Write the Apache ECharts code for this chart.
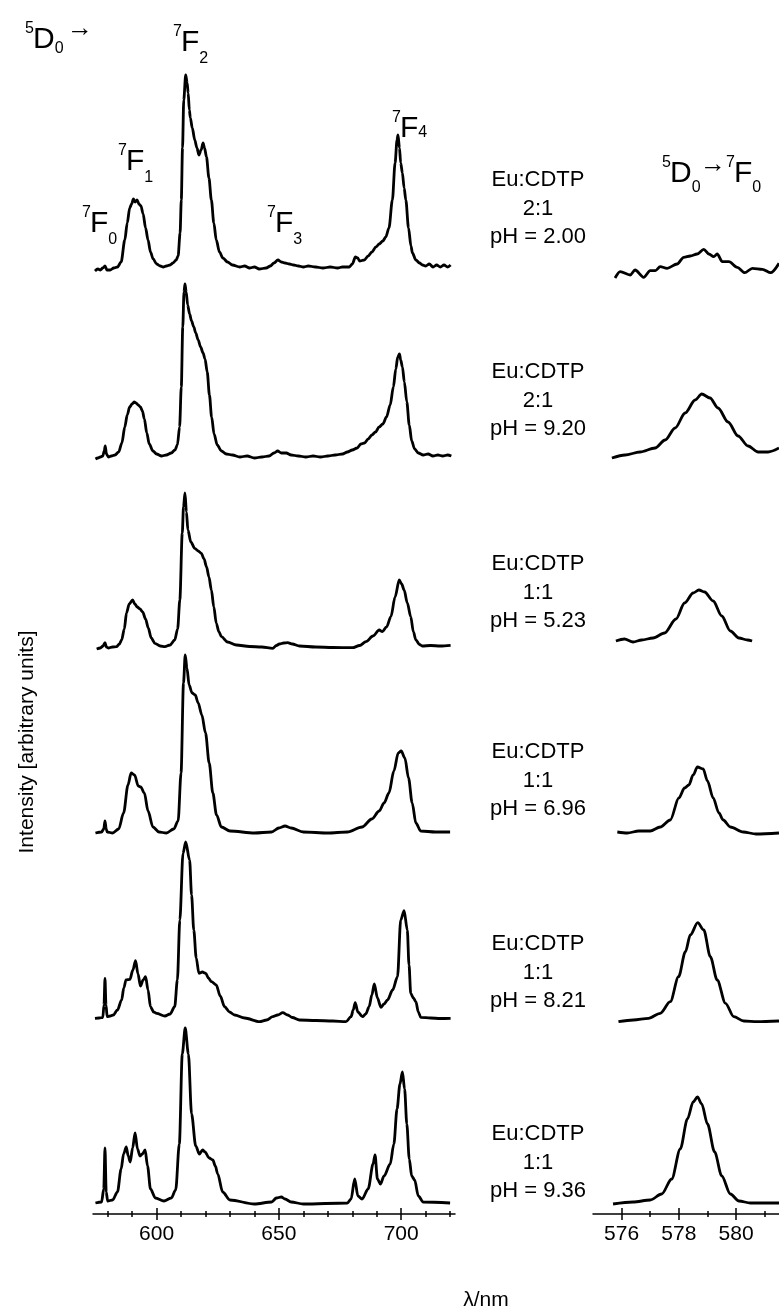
<!DOCTYPE html>
<html>
<head>
<meta charset="utf-8">
<script src="https://cdn.jsdelivr.net/npm/echarts@6/dist/echarts.min.js"></script>
<style>
html, body { margin: 0; padding: 0; background: #fff; }
#chart { width: 779px; height: 1315px; }
</style>
</head>
<body>
<div id="chart"></div>
<script>
// spectra: [wavelength nm, intensity (arb.)], one array per sample, top to bottom
const spec1 = [[574.8,-3],[576,-1],[577,-2],[578,0],[578.9,2],[579.7,-2],[581,-2],[582.5,0],[584,1],[585.5,6],[587,28],[588,45],[589,60],[589.8,64],[590.5,69],[591.2,66],[592,68],[592.8,64],[593.6,62],[594.5,54],[595.5,40],[596.5,28],[597.5,16],[598.6,9],[600,4],[601.5,2],[602.7,1],[604,2],[605.5,3],[606.7,5],[608,8],[608.8,12],[609.6,35],[610.1,68],[610.6,120],[611.1,168],[611.9,193],[612.5,185],[612.9,175],[613.4,158],[613.8,150],[614.6,140],[615.6,128],[616.5,120],[617.3,113],[618.2,118],[619,125],[619.6,120],[620.4,111],[621.4,90],[622.4,68],[623.4,45],[624.4,28],[625.7,16],[627.1,10],[629,6],[631,3],[634,1],[636,2],[638,0],[640,1],[642,-1],[644.8,0],[646.5,2],[648,5],[649.6,8],[651,6],[652.5,5],[654.3,4],[656,3],[658,2],[660,1],[662,2],[665,1],[668,0],[671,1],[674,0],[676,1],[678.8,1],[680,4],[681.3,11],[682.2,10],[683,7],[684.9,8],[686.5,12],[688,16],[689.7,21],[691,24],[692.5,27],[693.7,31],[695,40],[696.4,68],[697.5,105],[698.3,128],[698.7,133],[699.3,120],[699.8,105],[700.5,95],[701.2,80],[701.9,68],[703,40],[704,22],[704.6,15],[706,8],[707.5,5],[708.7,3],[710,2],[711.5,4],[713,1],[714.5,3],[716,1],[717.5,3],[719,1],[720.2,3]];
const spec2 = [[575,-2],[576,-1],[577,0],[578,1],[578.6,6],[579,11],[579.5,3],[580.3,0],[581.5,1],[583,2],[584.5,5],[585.8,14],[587,30],[588,42],[589,50],[590,53],[590.8,55],[591.6,54],[592.5,52],[593.4,50],[594.2,46],[595,38],[596,24],[597,13],[598.5,6],[600,3],[602,1],[604,2],[606,4],[607.5,7],[608.5,12],[609.4,30],[610.1,70],[610.7,130],[611.2,165],[611.6,173],[612.1,165],[612.7,152],[613.5,143],[614.3,136],[615.2,130],[616,124],[617,117],[618,110],[619,104],[619.8,98],[620.7,85],[621.6,62],[622.5,40],[623.5,23],[624.8,12],[626.5,6],[628.5,3],[631,2],[634,0],[637,1],[640,-1],[643,0],[646,1],[648,4],[649.5,6],[651,4],[653,4],[655,2],[658,1],[661,0],[664,1],[667,0],[670,1],[673,2],[676,3],[678,5],[680,7],[682,9],[683.5,13],[685,14],[686.5,18],[688,22],[689.5,25],[691,30],[692.5,33],[694,40],[695.5,52],[696.8,70],[697.8,88],[698.6,100],[699.3,103],[699.8,97],[700.5,90],[701.3,75],[702.3,55],[703.3,32],[704.3,16],[705.5,8],[707,4],[709,2],[711,3],[713,1],[715,2],[717,1],[719,2],[720.5,1]];
const spec3 = [[575.5,-2],[577,-1],[578.1,1],[578.9,4.3],[579.5,0],[580.2,-1],[582,0],[583.6,0.3],[584.8,3],[585.7,7],[586.8,18],[587.7,34],[588.8,43],[590.2,47],[591.1,43],[592.1,40],[593.2,38],[594.3,35],[595.5,28],[596.6,19],[597.8,9],[599.3,3.7],[601.5,1],[603.4,0.3],[605.5,2],[607.4,7],[608.6,18],[609.5,47],[610.5,114],[611,140],[611.6,154],[612.2,135],[612.8,117],[614,105],[615.6,98.7],[617,96],[618.3,93.7],[619.4,88],[620.4,80.3],[621.4,70],[622.4,57],[623.4,40],[624.4,23.7],[625.5,15],[626.5,10.3],[629,5],[632.6,2],[638,0.5],[643,0],[647.5,-1.3],[649,1.5],[650.2,3],[652,4],[653.6,4.3],[655.5,3],[658.4,1],[665,0],[672,-0.5],[680.1,-0.7],[683,1.5],[685.6,5.3],[688.5,11],[691,17],[692.3,15.3],[694,20],[695.8,30.3],[697.5,50],[699.2,67],[700.2,63],[701.2,57],[702.5,44],[703.9,30.3],[705,15],[706,7],[707.5,2.5],[708.6,1],[712,1.5],[716,1],[720.2,1.7]];
const spec4 = [[575,0],[577.5,1],[578.4,4],[578.9,12],[579.4,4],[579.8,1],[582,0],[584.5,4],[586.5,20],[588.3,48],[589.6,60],[591,58],[592.5,47],[593.5,46],[595,40],[596.5,22],[598.5,6],[601,1],[604,0],[607,4],[608.8,12],[610,60],[611,150],[611.7,178],[612.4,165],[613.3,148],[614.5,140],[615.8,138],[617,130],[618.5,118],[620,100],[621.5,70],[623,40],[624.5,18],[626.5,6],[630,2],[640,0],[647,1],[650,5],[652.5,7],[655,5],[660,1],[670,0],[678,1],[684,6],[688,14],[691,22],[693,30],[695,40],[697,62],[698.8,80],[700,82],[701.5,75],[703,55],[704.5,30],[706,10],[708,2],[714,1],[720,1]];
const spec5 = [[574.8,1.7],[576.5,2],[578,2.5],[578.5,15],[578.9,41.7],[579.3,15],[579.8,3.3],[581,4],[582.3,5],[584,10],[585.7,20],[586.6,32],[587.5,40],[589.1,40.7],[590.3,50],[591.4,59.3],[592.4,46],[593.4,34],[594.5,40],[595.5,43.3],[596.5,30],[597.5,13.3],[598.8,8],[600,6.7],[603.4,4],[605.5,6],[607.4,13.3],[608.5,40],[609.5,100],[610.8,166.7],[611.9,178],[613.5,160],[614.3,125],[615.2,90],[616.2,62],[617.3,46.7],[618.7,48],[620.1,46.7],[621.2,42],[622.4,38.3],[624.4,35],[626,24],[627.8,13.3],[629.8,8],[631.9,5],[636,2],[642.1,-1.7],[645,0],[647.5,3.3],[649.5,5],[651.6,7.3],[653.6,5],[655.5,2.5],[658.4,0],[665,-0.5],[672,-1],[677.4,-1.7],[679.5,3.3],[680.4,10],[681.2,17.3],[682.3,8],[684.2,3.3],[685.5,6],[686.9,13.3],[688,25],[689,36],[690.3,22],[691.7,12.7],[693,16],[694.4,20],[696.5,30],[698.5,43.3],[699.8,100],[701.2,109.3],[702.5,90],[703.2,55],[703.9,26.7],[705,22],[706,18.3],[707,8],[708,2.7],[712,2],[716,1.5],[720.2,1.7]];
const spec6 = [[575,1],[577.5,2],[578.4,15],[578.9,56],[579.4,12],[580,3],[582,4],[584,12],[585.5,35],[586.5,50],[587.6,57],[588.4,48],[589.2,42],[590.2,56],[591.2,71],[592.2,55],[593.2,48],[594.2,50],[595.3,54],[596.3,38],[597.5,15],[599.5,6],[603,3],[606,6],[607.8,14],[609.3,60],[610.5,150],[611.7,176],[613,150],[614.3,90],[616,58],[617.5,50],[618.8,54],[619.8,52],[621.5,46],[623,44],[624,38],[625,30],[627,12],[630,4],[640,0],[647,2],[649,6],[651,7],[652.5,5],[655,2],[660,0],[678,1],[679.5,5],[681,25],[682.3,8],[684,5],[686.5,15],[688.5,40],[689.3,49],[690.3,25],[691.5,20],[693,28],[695.5,40],[697,60],[698.3,95],[699.5,120],[700.5,132],[701.4,115],[702.3,80],[703.3,45],[704.3,28],[705.5,24],[707,8],[709,2],[720,1]];

// 5D0 -> 7F0 insets, same order
const inset1 = [[575.77,0],[575.95,6.3],[576.3,3],[576.47,8],[576.77,0.7],[577.0,7.3],[577.18,7.3],[577.35,11.3],[577.59,9.7],[577.94,14],[578.17,20.7],[578.4,22],[578.64,24],[578.87,28.7],[579.05,24],[579.22,21.3],[579.34,24],[579.52,16.3],[579.75,16.3],[580.04,10.7],[580.3,5.3],[580.57,9.7],[580.92,8.7],[581.21,5.3],[581.5,14.7]];
const inset2 = [[575.66,-3],[576.12,0],[576.64,3],[577.17,7],[577.52,15],[577.87,27],[578.22,42],[578.57,55],[578.8,61],[579.09,57],[579.37,47],[579.72,33],[580.07,19],[580.42,9],[580.77,3],[581.12,3],[581.5,7]];
const inset3 = [[575.8,0],[576.1,2],[576.4,-1],[576.7,1],[577.1,3],[577.5,8],[577.9,22],[578.2,38],[578.5,48],[578.7,51],[578.9,49],[579.2,40],[579.5,25],[579.8,10],[580.1,3],[580.4,1],[580.56,0]];
const inset4 = [[575.85,1],[576.2,0],[576.6,2],[577.0,2],[577.35,6],[577.7,13],[578.0,35],[578.2,45],[578.35,48],[578.5,58],[578.65,66],[578.85,64],[579.0,52],[579.2,35],[579.4,20],[579.55,13],[579.8,6],[580.25,1],[580.7,-1],[581.5,0]];
const inset5 = [[575.89,0.3],[576.41,2],[576.94,3.7],[577.35,8.7],[577.7,20.3],[577.99,45.3],[578.23,70.3],[578.4,87],[578.66,99.3],[578.87,92],[579.1,65.3],[579.34,42],[579.63,18.7],[579.92,5.3],[580.27,1],[580.74,0.3],[581.5,1]];
const inset6 = [[575.7,0],[576.4,2],[577,4],[577.4,10],[577.75,25],[578.05,55],[578.3,85],[578.5,102],[578.65,107],[578.8,100],[579.0,80],[579.25,52],[579.5,28],[579.8,10],[580.1,3],[580.5,1],[581.5,1]];

const samples = ['Eu:CDTP', 'Eu:CDTP', 'Eu:CDTP', 'Eu:CDTP', 'Eu:CDTP', 'Eu:CDTP'];
const ratios = ['2:1', '2:1', '1:1', '1:1', '1:1', '1:1'];
const phLabels = ['pH = 2.00', 'pH = 9.20', 'pH = 5.23', 'pH = 6.96', 'pH = 8.21', 'pH = 9.36'];
const mainTicks = [600, 650, 700];
const mainMinor = [580, 590, 610, 620, 630, 640, 660, 670, 680, 690, 710, 720];
const insetTicks = [576, 578, 580];
const insetMinor = [577, 579, 581];

const spectra = [spec1, spec2, spec3, spec4, spec5, spec6];
const insets = [inset1, inset2, inset3, inset4, inset5, inset6];

const chart = echarts.init(document.getElementById('chart'));
const FONT = '"Liberation Sans", Arial, sans-serif';

// baselines of each trace (px)
const leftBase = [268, 457, 647, 833, 1020, 1204];
const insetBase = [278, 455, 641, 833, 1022, 1204];
const labelTop = [180, 372, 564, 752, 944, 1134];

const grids = [];
const xAxes = [];
const yAxes = [];
const series = [];

spectra.forEach((d, i) => {
  grids.push({ left: 93, width: 362, top: leftBase[i] - 200, height: 210 });
});
insets.forEach((d, i) => {
  grids.push({ left: 593, width: 186, top: insetBase[i] - 200, height: 210 });
});

const tickLine = { color: '#000', width: 1.5 };

grids.forEach((g, i) => {
  const isInset = i >= 6;
  const bottom = i === 5 || i === 11;
  xAxes.push({
    type: 'value',
    gridIndex: i,
    position: 'bottom',
    min: isInset ? 575 : 574,
    max: isInset ? 581.5 : 722,
    show: bottom,
    splitLine: { show: false },
    axisLine: { show: true, onZero: false, lineStyle: tickLine },
    axisTick: { show: true, customValues: isInset ? insetTicks : mainTicks, length: 6, lineStyle: tickLine },
    axisLabel: {
      customValues: isInset ? insetTicks : mainTicks,
      fontSize: 21, fontFamily: FONT, color: '#000', margin: 10
    }
  });
  yAxes.push({ type: 'value', gridIndex: i, min: -10, max: 200, show: false });
  series.push({
    type: 'line',
    xAxisIndex: i,
    yAxisIndex: i,
    data: isInset ? insets[i - 6] : spectra[i],
    showSymbol: false,
    smooth: 0.3,
    smoothMonotone: 'x',
    lineStyle: { color: '#000', width: 2.8 },
    silent: true,
    animation: false
  });
});

// extra axes on the bottom grids: inner half of the major ticks and the minor ticks
[[5, mainTicks, mainMinor, 574, 722], [11, insetTicks, insetMinor, 575, 581.5]].forEach(([gi, maj, min, lo, hi]) => {
  const base = { type: 'value', gridIndex: gi, position: 'bottom', offset: 0, min: lo, max: hi,
    splitLine: { show: false }, axisLine: { show: false, onZero: false }, axisLabel: { show: false } };
  xAxes.push(Object.assign({}, base, { axisTick: { show: true, inside: true, customValues: maj, length: 6, lineStyle: tickLine } }));
  xAxes.push(Object.assign({}, base, { axisTick: { show: true, inside: true, customValues: min, length: 3, lineStyle: tickLine } }));
  xAxes.push(Object.assign({}, base, { axisTick: { show: true, inside: false, customValues: min, length: 3, lineStyle: tickLine } }));
});

function txt(x, y, s, size, extra) {
  return Object.assign({
    type: 'text', x: x, y: y, silent: true,
    style: { text: s, font: size + 'px ' + FONT, fill: '#000', textAlign: 'left', textVerticalAlign: 'middle' }
  }, extra || {});
}

// term symbol like 7F2: superscript, letter, subscript
function term(x, y, sup, letter, sub, subDy) {
  const w = letter === 'D' ? 21.7 : 18.3;
  return [
    txt(x, y - 11, sup, 16),
    txt(x + 8, y, letter, 30),
    txt(x + 8 + w, y + (subDy == null ? 16 : subDy), sub, 16)
  ];
}

const graphics = [];
graphics.push(...term(25, 40, '5', 'D', '0', 9));
graphics.push(txt(67, 29, '\u2192', 26));
graphics.push(...term(82, 224, '7', 'F', '0'));
graphics.push(...term(118, 162, '7', 'F', '1'));
graphics.push(...term(173, 43, '7', 'F', '2'));
graphics.push(...term(267, 224, '7', 'F', '3'));
graphics.push(...term(392, 129, '7', 'F', '4', 4));

// inset title 5D0 -> 7F0
graphics.push(...term(662, 174, '5', 'D', '0', 14));
graphics.push(txt(700, 165, '\u2192', 26));
graphics.push(...term(726, 174, '7', 'F', '0', 14));

samples.forEach((s, i) => {
  [s, ratios[i], phLabels[i]].forEach((line, k) => {
    const t = txt(538, labelTop[i] + k * 28.5, line, 22);
    t.style.textAlign = 'center';
    graphics.push(t);
  });
});

const yTitle = txt(27, 742, 'Intensity [arbitrary units]', 21);
yTitle.style.textAlign = 'center';
yTitle.rotation = Math.PI / 2;
graphics.push(yTitle);

const xTitle = txt(486, 1300, '\u03bb/nm', 21);
xTitle.style.textAlign = 'center';
graphics.push(xTitle);

chart.setOption({
  animation: false,
  backgroundColor: '#fff',
  grid: grids,
  xAxis: xAxes,
  yAxis: yAxes,
  series: series,
  graphic: graphics
});
</script>
</body>
</html>
